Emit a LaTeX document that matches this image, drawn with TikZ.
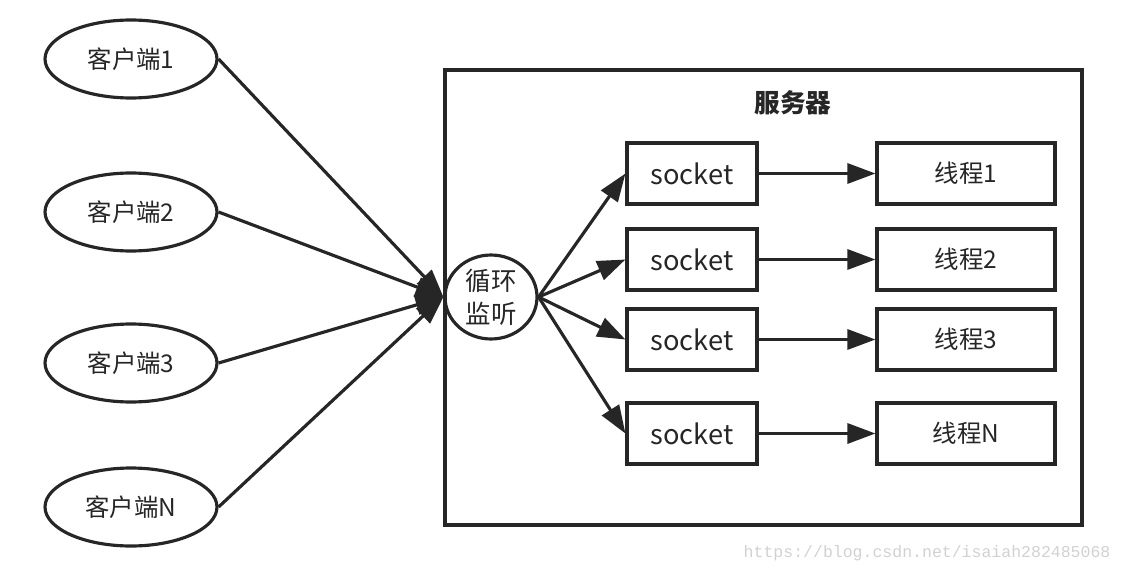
\documentclass[tikz,border=0pt]{standalone}
\usepackage{fontspec}
\setmainfont{Noto Sans CJK SC}
\setmonofont{Liberation Mono}
\usetikzlibrary{arrows.meta,shapes.geometric}

\begin{document}
\begin{tikzpicture}[x=0.02cm,y=-0.02cm,->,>={Triangle[length=0.56cm,width=0.4cm]},
  line width=1.8pt,draw=black!85,text=black!85,
  client node/.style={ellipse,draw,inner sep=0pt,minimum width=3.44cm,minimum height=1.56cm,font=\fontsize{13.9}{16}\selectfont},
  loop node/.style={ellipse,draw,inner sep=0pt,minimum width=1.84cm,minimum height=1.68cm,align=center,font=\fontsize{14.5}{18.7}\selectfont},
  socket node/.style={rectangle,draw,inner sep=0pt,minimum width=2.6cm,minimum height=1.22cm,font=\fontsize{15.5}{18}\selectfont},
  thread node/.style={rectangle,draw,inner sep=0pt,minimum width=3.56cm,minimum height=1.22cm,font=\fontsize{13.9}{16}\selectfont}]

  \useasboundingbox (0,0) rectangle (1124,574);

  \node[rectangle,draw,minimum width=12.74cm,minimum height=9.1cm] (server) at (763.5,297.5) {};
  \node[font=\fontsize{14.6}{17}\selectfont\bfseries] (title) at (793,103) {服务器};

  \node[client node] (c1) at (131,59) {客户端1};
  \node[client node] (c2) at (131,212) {客户端2};
  \node[client node] (c3) at (131,363) {客户端3};
  \node[client node] (cn) at (131,507) {客户端N};

  \node[loop node] (loop) at (491,297) {循环\\监听};

  \node[socket node] (s1) at (692,173.5) {socket};
  \node[socket node] (s2) at (692,259.5) {socket};
  \node[socket node] (s3) at (692,339.5) {socket};
  \node[socket node] (sn) at (692,433.5) {socket};

  \node[thread node] (t1) at (966,173.5) {线程1};
  \node[thread node] (t2) at (966,259.5) {线程2};
  \node[thread node] (t3) at (966,339.5) {线程3};
  \node[thread node] (tn) at (966,433.5) {线程N};

  \node[text=black!18,inner sep=0pt,font=\ttfamily\fontsize{9.4}{11}\selectfont,anchor=east] (mark) at (1112,553) {https://blog.csdn.net/isaiah282485068};

  \path
    (c1.east) edge (loop.west)
    (c2.east) edge (loop.west)
    (c3.east) edge (loop.west)
    (cn.east) edge (loop.west)
    (loop.east) edge (s1.west)
    (loop.east) edge (s2.west)
    (loop.east) edge (s3.west)
    (loop.east) edge (sn.west)
    (s1) edge (t1)
    (s2) edge (t2)
    (s3) edge (t3)
    (sn) edge (tn)
    ;
\end{tikzpicture}
\end{document}
